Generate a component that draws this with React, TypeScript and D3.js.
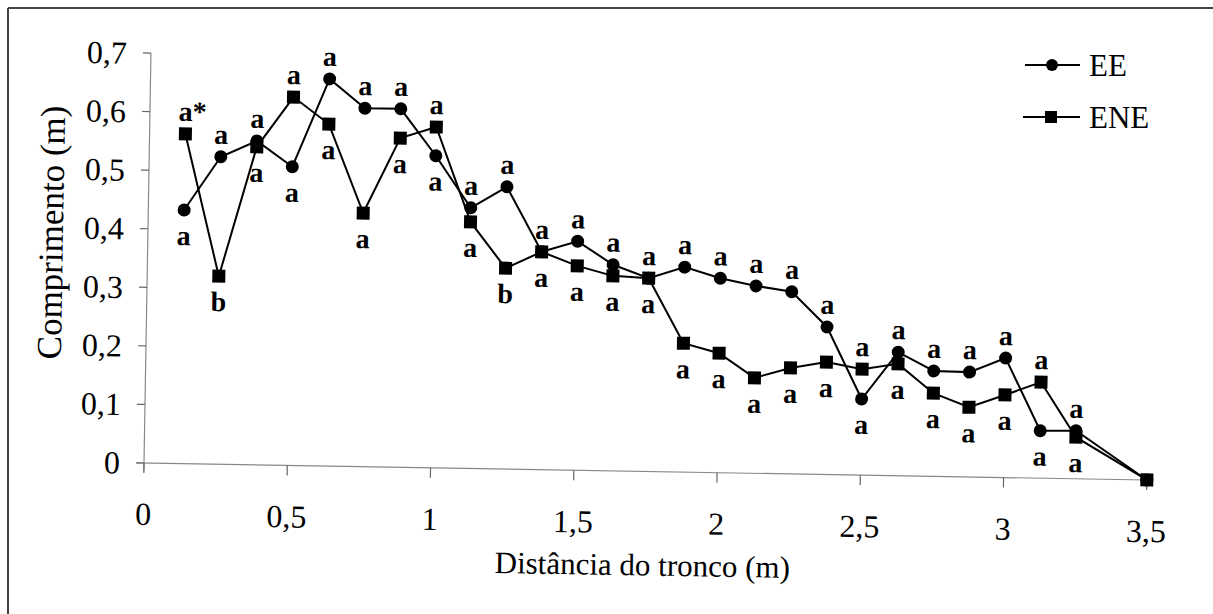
import React from 'react';
import * as d3 from 'd3';

// distância do tronco (m)
const distances = [0.125, 0.25, 0.375, 0.5, 0.625, 0.75, 0.875, 1, 1.125, 1.25, 1.375, 1.5, 1.625, 1.75,
  1.875, 2, 2.125, 2.25, 2.375, 2.5, 2.625, 2.75, 2.875, 3, 3.125, 3.25, 3.5];

// comprimento (m)
const eeValues = [0.433, 0.525, 0.553, 0.51, 0.661, 0.612, 0.612, 0.533, 0.445, 0.482, 0.372, 0.391, 0.352,
  0.33, 0.35, 0.332, 0.32, 0.311, 0.252, 0.13, 0.211, 0.18, 0.179, 0.204, 0.081, 0.082, 0];
const eneValues = [0.563, 0.321, 0.543, 0.629, 0.584, 0.433, 0.562, 0.582, 0.421, 0.343, 0.372, 0.349, 0.333,
  0.33, 0.22, 0.204, 0.163, 0.181, 0.192, 0.181, 0.191, 0.142, 0.119, 0.141, 0.164, 0.071, 0];

// letras de significância
const eeLetters = ['a', 'a', 'a', 'a', 'a', 'a', 'a', 'a', 'a', 'a', 'a', 'a', 'a', 'a', 'a', 'a', 'a', 'a',
  'a', 'a', 'a', 'a', 'a', 'a', 'a', 'a', ''];
const eneLetters = ['a*', 'b', 'a', 'a', 'a', 'a', 'a', 'a', 'a', 'b', 'a', 'a', 'a', 'a', 'a', 'a', 'a', 'a',
  'a', 'a', 'a', 'a', 'a', 'a', 'a', 'a', ''];

const seriesNames = ['EE', 'ENE'];

const W = 1213;
const H = 614;
const ox = 144;
const oy = 463;
const tilt = 0.97; // the scanned figure is slightly rotated

const x = d3.scaleLinear().domain([0, 3.5]).range([ox, ox + 1003]);
const y = d3.scaleLinear().domain([0, 0.7]).range([oy, oy - 410]);

const locale = d3.formatLocale({ decimal: ',', thousands: '.', grouping: [3], currency: ['', ''] });
const fmt = locale.format('~g');

export default function App() {
  const line = d3.line<number>()
    .x((_, i) => x(distances[i]))
    .y(d => y(d));

  const labels: { x: number; y: number; text: string; above: boolean }[] = [];
  distances.forEach((d, i) => {
    const eeUp = eeValues[i] >= eneValues[i];
    if (eeLetters[i]) labels.push({ x: x(d), y: y(eeValues[i]), text: eeLetters[i], above: eeUp });
    if (eneLetters[i]) labels.push({ x: x(d), y: y(eneValues[i]), text: eneLetters[i], above: !eeUp });
  });

  return (
    <svg width={W} height={H} fontFamily="Liberation Serif"
      style={{ position: 'absolute', left: 0, top: 0, background: '#fff', fontFamily: 'Liberation Serif' }}>
      {/* frame */}
      <line x1={8} y1={8} x2={W} y2={8} stroke="#444" strokeWidth={2} />
      <line x1={8} y1={8} x2={8} y2={H} stroke="#444" strokeWidth={2} />

      <g transform={`rotate(${tilt}, ${ox}, ${oy})`}>
        {/* axes */}
        <line x1={x(0) - 7} y1={y(0)} x2={x(3.5)} y2={y(0)} stroke="#888" strokeWidth={1.2} />
        <line x1={x(0)} y1={y(0) + 8} x2={x(0)} y2={y(0.7)} stroke="#888" strokeWidth={1.2} />
        {y.ticks(7).map(t => (
          <g key={'y' + t}>
            <line x1={x(0) - 8} x2={x(0)} y1={y(t)} y2={y(t)} stroke="#666" strokeWidth={1.2} />
            <text x={x(0) - 24} y={y(t) + 11} textAnchor="end" fontSize={32} fontFamily="Liberation Serif">{fmt(t)}</text>
          </g>
        ))}
        {x.ticks(7).map(t => (
          <g key={'x' + t}>
            <line x1={x(t)} x2={x(t)} y1={y(0)} y2={y(0) + 10} stroke="#666" strokeWidth={1.2} />
            <text x={x(t)} y={y(0) + 62} textAnchor="middle" fontSize={32} fontFamily="Liberation Serif">{fmt(t)}</text>
          </g>
        ))}
        <text x={644} y={y(0) + 104} textAnchor="middle" fontSize={31} fontFamily="Liberation Serif">Distância do tronco (m)</text>
        <text transform="translate(59, 234) rotate(-90)" textAnchor="middle" fontSize={35} fontFamily="Liberation Serif">Comprimento (m)</text>

        {/* series */}
        <path d={line(eeValues) || ''} fill="none" stroke="#000" strokeWidth={2} />
        <path d={line(eneValues) || ''} fill="none" stroke="#000" strokeWidth={2} />
        {eeValues.map((v, i) => (
          <circle key={'c' + i} cx={x(distances[i])} cy={y(v)} r={6.5} fill="#000" />
        ))}
        {eneValues.map((v, i) => (
          <rect key={'s' + i} x={x(distances[i]) - 6.5} y={y(v) - 6.5} width={13} height={13} fill="#000" />
        ))}

        {/* letters */}
        {labels.map((l, i) => (
          <text key={'l' + i}
            x={l.text.length > 1 ? l.x - 7 : l.x}
            y={l.above ? l.y - 13 : l.y + 35}
            textAnchor={l.text.length > 1 ? 'start' : 'middle'}
            fontSize={28} fontWeight="bold" fontFamily="Liberation Serif">{l.text}</text>
        ))}
      </g>

      {/* legend */}
      <line x1={1025} x2={1080} y1={65} y2={65} stroke="#000" strokeWidth={2} />
      <circle cx={1052} cy={65} r={6} fill="#000" />
      <text x={1089} y={76} fontSize={31} fontFamily="Liberation Serif">{seriesNames[0]}</text>
      <line x1={1023} x2={1080} y1={117} y2={117} stroke="#000" strokeWidth={2} />
      <rect x={1045} y={111} width={12} height={12} fill="#000" />
      <text x={1089} y={128} fontSize={31} fontFamily="Liberation Serif">{seriesNames[1]}</text>
    </svg>
  );
}
